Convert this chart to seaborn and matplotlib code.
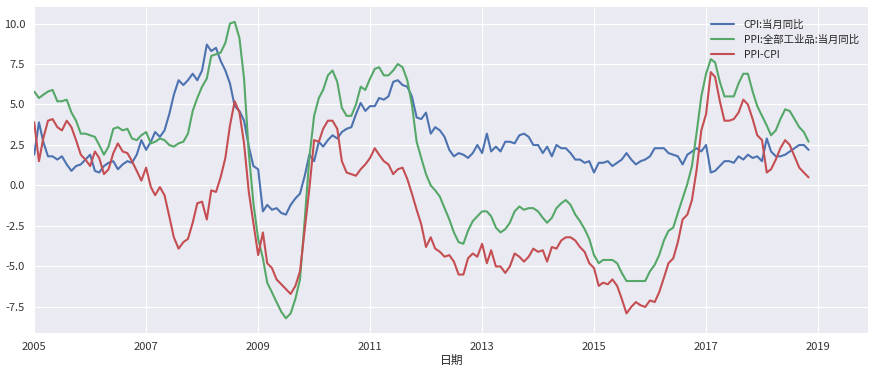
import numpy as np
import pandas as pd
import matplotlib
matplotlib.use('Agg')
import matplotlib.pyplot as plt
import matplotlib.ticker as mticker
import seaborn as sns

# monthly data, 2005-01 .. 2018-11
cpi = [1.9, 3.9, 2.7, 1.8, 1.8, 1.6, 1.8, 1.3, 0.9, 1.2, 1.3, 1.6,
       1.9, 0.9, 0.8, 1.2, 1.4, 1.5, 1.0, 1.3, 1.5, 1.4, 1.9, 2.8,
       2.2, 2.7, 3.3, 3.0, 3.4, 4.4, 5.6, 6.5, 6.2, 6.5, 6.9, 6.5,
       7.1, 8.7, 8.3, 8.5, 7.7, 7.1, 6.3, 4.9, 4.6, 4.0, 2.4, 1.2,
       1.0, -1.6, -1.2, -1.5, -1.4, -1.7, -1.8, -1.2, -0.8, -0.5, 0.6, 1.9,
       1.5, 2.7, 2.4, 2.8, 3.1, 2.9, 3.3, 3.5, 3.6, 4.4, 5.1, 4.6,
       4.9, 4.9, 5.4, 5.3, 5.5, 6.4, 6.5, 6.2, 6.1, 5.5, 4.2, 4.1,
       4.5, 3.2, 3.6, 3.4, 3.0, 2.2, 1.8, 2.0, 1.9, 1.7, 2.0, 2.5,
       2.0, 3.2, 2.1, 2.4, 2.1, 2.7, 2.7, 2.6, 3.1, 3.2, 3.0, 2.5,
       2.5, 2.0, 2.4, 1.8, 2.5, 2.3, 2.3, 2.0, 1.6, 1.6, 1.4, 1.5,
       0.8, 1.4, 1.4, 1.5, 1.2, 1.4, 1.6, 2.0, 1.6, 1.3, 1.5, 1.6,
       1.8, 2.3, 2.3, 2.3, 2.0, 1.9, 1.8, 1.3, 1.9, 2.1, 2.3, 2.1,
       2.5, 0.8, 0.9, 1.2, 1.5, 1.5, 1.4, 1.8, 1.6, 1.9, 1.7, 1.8,
       1.5, 2.9, 2.1, 1.8, 1.8, 1.9, 2.1, 2.3, 2.5, 2.5, 2.2]

ppi = [5.8, 5.4, 5.6, 5.8, 5.9, 5.2, 5.2, 5.3, 4.5, 4.0, 3.2, 3.2,
       3.1, 3.0, 2.5, 1.9, 2.4, 3.5, 3.6, 3.4, 3.5, 2.9, 2.8, 3.1,
       3.3, 2.6, 2.7, 2.9, 2.8, 2.5, 2.4, 2.6, 2.7, 3.2, 4.6, 5.4,
       6.1, 6.6, 8.0, 8.1, 8.2, 8.8, 10.0, 10.1, 9.1, 6.6, 2.0, -1.1,
       -3.3, -4.5, -6.0, -6.6, -7.2, -7.8, -8.2, -7.9, -7.0, -5.8, -2.1, 1.7,
       4.3, 5.4, 5.9, 6.8, 7.1, 6.4, 4.8, 4.3, 4.3, 5.0, 6.1, 5.9,
       6.6, 7.2, 7.3, 6.8, 6.8, 7.1, 7.5, 7.3, 6.5, 5.0, 2.7, 1.7,
       0.7, 0.0, -0.3, -0.7, -1.4, -2.1, -2.9, -3.5, -3.6, -2.8, -2.2, -1.9,
       -1.6, -1.6, -1.9, -2.6, -2.9, -2.7, -2.3, -1.6, -1.3, -1.5, -1.4, -1.4,
       -1.6, -2.0, -2.3, -2.0, -1.4, -1.1, -0.9, -1.2, -1.8, -2.2, -2.7, -3.3,
       -4.3, -4.8, -4.6, -4.6, -4.6, -4.8, -5.4, -5.9, -5.9, -5.9, -5.9, -5.9,
       -5.3, -4.9, -4.3, -3.4, -2.8, -2.6, -1.7, -0.8, 0.1, 1.2, 3.3, 5.5,
       6.9, 7.8, 7.6, 6.4, 5.5, 5.5, 5.5, 6.3, 6.9, 6.9, 5.8, 4.9,
       4.3, 3.7, 3.1, 3.4, 4.1, 4.7, 4.6, 4.1, 3.6, 3.3, 2.7]

dates = pd.date_range('2005-01-01', periods=len(cpi), freq='MS')
tick_years = ['2005', '2007', '2009', '2011', '2013', '2015', '2017', '2019']

df = pd.DataFrame({'日期': dates,
                   'CPI:当月同比': cpi,
                   'PPI:全部工业品:当月同比': ppi})
df['PPI-CPI'] = (df['PPI:全部工业品:当月同比'] - df['CPI:当月同比']).round(1)

sns.set_style('darkgrid')
plt.rcParams['font.family'] = ['Noto Sans CJK SC', 'DejaVu Sans']
plt.rcParams['axes.unicode_minus'] = False

fig = plt.figure(figsize=(8.77, 3.73), dpi=100)
ax = fig.add_axes([0.039, 0.107, 0.951, 0.874])

colors = ['#4C72B0', '#55A868', '#C44E52']
for col, c in zip(['CPI:当月同比', 'PPI:全部工业品:当月同比', 'PPI-CPI'], colors):
    sns.lineplot(data=df, x='日期', y=col, ax=ax, color=c, label=col, linewidth=1.5)

ax.set_xlim(pd.Timestamp('2005-01-01'), pd.Timestamp('2019-11-25'))
ax.set_xticks(pd.to_datetime([y + '-01-01' for y in tick_years]))
ax.set_xticklabels(tick_years)
ax.yaxis.set_major_formatter(mticker.FormatStrFormatter('%.1f'))
ax.tick_params(labelsize=8, colors='#333333', pad=3)
ax.set_xlabel('日期', fontsize=8.5, labelpad=1)
ax.set_ylabel('')
for s in ax.spines.values():
    s.set_visible(False)

ax.legend(loc='upper right', frameon=False, fontsize=7.5, labelspacing=0.45,
          handlelength=2.2, handletextpad=0.9, bbox_to_anchor=(1.0, 0.99))

fig.savefig('out.png', dpi=100)
